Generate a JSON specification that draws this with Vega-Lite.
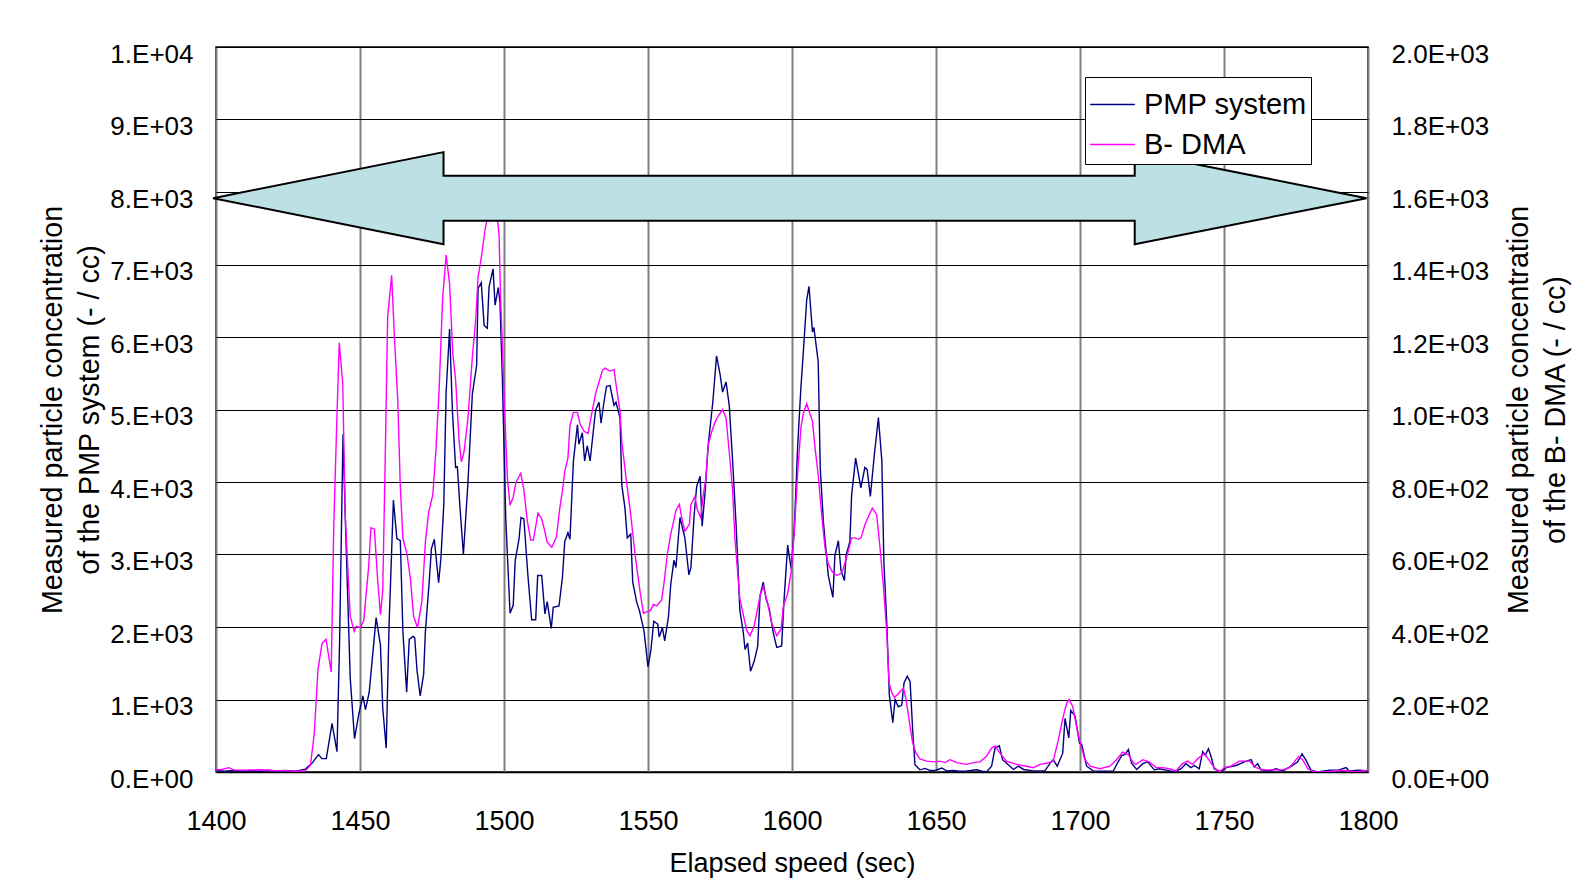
{
  "$schema": "https://vega.github.io/schema/vega-lite/v6.json",
  "width": 1152,
  "height": 725,
  "autosize": {"type": "none"},
  "padding": {"left": 216, "top": 47, "right": 211, "bottom": 118},
  "background": "white",
  "config": {
    "font": "Liberation Sans",
    "view": {"stroke": "#000000", "strokeWidth": 1.5},
    "axis": {"labelColor": "#000000", "titleColor": "#000000", "titleFontWeight": "normal", "labelFont": "Liberation Sans", "titleFont": "Liberation Sans"}
  },
  "datasets": {
    "pmp": [
      {"t":1400,"v":20},{"t":1403,"v":10},{"t":1406,"v":20},{"t":1409,"v":10},{"t":1412,"v":20},{"t":1415,"v":10},{"t":1418,"v":25},{"t":1421,"v":15},{"t":1424,"v":20},{"t":1427,"v":10},{"t":1429,"v":20},
      {"t":1431,"v":40},{"t":1433.3,"v":120},{"t":1435.6,"v":240},{"t":1436.8,"v":185},{"t":1438.3,"v":185},{"t":1440.3,"v":670},{"t":1442,"v":280},{"t":1442.9,"v":1770},{"t":1444.1,"v":4660},{"t":1444.9,"v":3500},{"t":1446.6,"v":1300},{"t":1448.1,"v":460},{"t":1449.5,"v":780},{"t":1451,"v":1050},{"t":1451.9,"v":860},{"t":1453.2,"v":1100},{"t":1455.6,"v":2130},{"t":1457.1,"v":1750},{"t":1457.9,"v":880},{"t":1459.1,"v":330},{"t":1460.1,"v":2040},{"t":1461.6,"v":3750},{"t":1462.8,"v":3220},{"t":1464,"v":3190},{"t":1464.9,"v":1930},{"t":1466.2,"v":1100},{"t":1467.1,"v":1830},{"t":1468.4,"v":1870},{"t":1469,"v":1850},{"t":1469.8,"v":1400},{"t":1470.9,"v":1050},{"t":1472.1,"v":1350},{"t":1472.7,"v":1930},{"t":1474,"v":2610},{"t":1474.8,"v":3080},{"t":1475.8,"v":3210},{"t":1477.3,"v":2610},{"t":1478.1,"v":2950},{"t":1479.1,"v":3690},{"t":1479.9,"v":5230},{"t":1481.1,"v":6110},{"t":1482.1,"v":4970},{"t":1483.2,"v":4200},{"t":1483.8,"v":4210},{"t":1484.7,"v":3660},{"t":1485.9,"v":3000},{"t":1487.5,"v":4000},{"t":1489,"v":5210},{"t":1490.5,"v":5610},{"t":1491,"v":6670},{"t":1492.1,"v":6750},{"t":1493.1,"v":6160},{"t":1494.2,"v":6120},{"t":1494.8,"v":6690},{"t":1496.2,"v":6940},{"t":1496.9,"v":6440},{"t":1498,"v":6680},{"t":1498.6,"v":6480},{"t":1499.4,"v":5480},{"t":1500.6,"v":3500},{"t":1502.1,"v":2190},{"t":1503.2,"v":2300},{"t":1503.9,"v":2920},{"t":1505.2,"v":3210},{"t":1505.9,"v":3510},{"t":1506.9,"v":3490},{"t":1508.3,"v":2710},{"t":1509.6,"v":2100},{"t":1511,"v":2100},{"t":1511.7,"v":2710},{"t":1513.1,"v":2710},{"t":1514.2,"v":2180},{"t":1515,"v":2350},{"t":1516.4,"v":1980},{"t":1517.1,"v":2270},{"t":1519.1,"v":2290},{"t":1520.3,"v":2690},{"t":1521.1,"v":3180},{"t":1522.2,"v":3300},{"t":1522.9,"v":3210},{"t":1524.1,"v":4290},{"t":1525.5,"v":4790},{"t":1526,"v":4520},{"t":1527.2,"v":4680},{"t":1528,"v":4290},{"t":1528.9,"v":4500},{"t":1529.9,"v":4290},{"t":1531.8,"v":4990},{"t":1533,"v":5100},{"t":1533.7,"v":4810},{"t":1534.7,"v":5100},{"t":1535.6,"v":5320},{"t":1536.8,"v":5330},{"t":1538.2,"v":5060},{"t":1538.9,"v":5100},{"t":1540.3,"v":4880},{"t":1540.9,"v":3960},{"t":1542,"v":3640},{"t":1542.8,"v":3230},{"t":1544,"v":3280},{"t":1544.7,"v":2620},{"t":1546.1,"v":2340},{"t":1547,"v":2230},{"t":1548.6,"v":1950},{"t":1550,"v":1450},{"t":1551,"v":1680},{"t":1552,"v":2080},{"t":1553.4,"v":2040},{"t":1553.9,"v":1860},{"t":1555,"v":1990},{"t":1555.8,"v":1810},{"t":1557.1,"v":2140},{"t":1557.9,"v":2590},{"t":1559,"v":2920},{"t":1559.7,"v":2820},{"t":1561.1,"v":3510},{"t":1562.8,"v":3230},{"t":1564.2,"v":2720},{"t":1564.9,"v":2820},{"t":1566,"v":3530},{"t":1566.9,"v":3940},{"t":1568.1,"v":4080},{"t":1568.8,"v":3390},{"t":1569.8,"v":3850},{"t":1570.9,"v":4510},{"t":1572.5,"v":5100},{"t":1573.8,"v":5740},{"t":1575,"v":5490},{"t":1575.9,"v":5240},{"t":1577.1,"v":5380},{"t":1578.2,"v":5060},{"t":1579.4,"v":4280},{"t":1580.6,"v":3400},{"t":1581.9,"v":2230},{"t":1583.1,"v":1920},{"t":1583.7,"v":1690},{"t":1584.6,"v":1780},{"t":1585.6,"v":1390},{"t":1586.9,"v":1530},{"t":1588.1,"v":1740},{"t":1588.9,"v":2430},{"t":1590,"v":2620},{"t":1591,"v":2390},{"t":1592.1,"v":2250},{"t":1593.5,"v":1920},{"t":1594.7,"v":1720},{"t":1596.4,"v":1740},{"t":1597.3,"v":2410},{"t":1598.5,"v":3130},{"t":1599.7,"v":2800},{"t":1600.8,"v":3360},{"t":1602,"v":4520},{"t":1603.1,"v":5310},{"t":1603.9,"v":5770},{"t":1605.1,"v":6510},{"t":1605.9,"v":6700},{"t":1607.1,"v":6070},{"t":1607.6,"v":6130},{"t":1609.1,"v":5660},{"t":1609.8,"v":4200},{"t":1610.9,"v":3450},{"t":1612.6,"v":2710},{"t":1614.2,"v":2410},{"t":1614.9,"v":2990},{"t":1616.1,"v":3190},{"t":1617,"v":2780},{"t":1618.2,"v":2640},{"t":1618.8,"v":2990},{"t":1620.1,"v":3180},{"t":1620.7,"v":3820},{"t":1622.1,"v":4330},{"t":1623,"v":4130},{"t":1623.9,"v":3920},{"t":1625.3,"v":4200},{"t":1626.1,"v":4170},{"t":1627.2,"v":3800},{"t":1628.6,"v":4380},{"t":1630,"v":4890},{"t":1631.2,"v":4290},{"t":1631.9,"v":2900},{"t":1632.9,"v":2060},{"t":1633.8,"v":1060},{"t":1635,"v":680},{"t":1635.8,"v":1000},{"t":1636.9,"v":900},{"t":1638.1,"v":920},{"t":1638.9,"v":1230},{"t":1640,"v":1320},{"t":1641,"v":1250},{"t":1641.9,"v":580},{"t":1642.7,"v":100},{"t":1644.4,"v":30},{"t":1646.2,"v":50},{"t":1648,"v":20},{"t":1650,"v":25},{"t":1652,"v":55},{"t":1653.7,"v":15},{"t":1656,"v":20},{"t":1658,"v":10},{"t":1660.6,"v":15},{"t":1662,"v":20},{"t":1664.1,"v":30},{"t":1666,"v":10},{"t":1667.6,"v":5},{"t":1669.3,"v":80},{"t":1670.5,"v":330},{"t":1672,"v":360},{"t":1673.1,"v":170},{"t":1675.1,"v":100},{"t":1676.9,"v":35},{"t":1678.6,"v":80},{"t":1680.4,"v":35},{"t":1683.8,"v":15},{"t":1687.8,"v":15},{"t":1689.8,"v":130},{"t":1690.7,"v":170},{"t":1692.1,"v":80},{"t":1694,"v":260},{"t":1694.8,"v":740},{"t":1696.1,"v":470},{"t":1696.8,"v":850},{"t":1698.3,"v":770},{"t":1699.8,"v":400},{"t":1700.6,"v":380},{"t":1702.3,"v":80},{"t":1704.6,"v":15},{"t":1708,"v":10},{"t":1711.6,"v":15},{"t":1712.7,"v":100},{"t":1714.5,"v":230},{"t":1715.6,"v":240},{"t":1716.8,"v":310},{"t":1717.9,"v":120},{"t":1719.7,"v":35},{"t":1721.8,"v":115},{"t":1723.5,"v":140},{"t":1725.8,"v":30},{"t":1727.5,"v":45},{"t":1729.9,"v":25},{"t":1732.8,"v":0},{"t":1735.1,"v":45},{"t":1736.8,"v":115},{"t":1738.5,"v":60},{"t":1739.7,"v":90},{"t":1741.4,"v":45},{"t":1742.6,"v":280},{"t":1743.5,"v":230},{"t":1744.6,"v":320},{"t":1745.5,"v":215},{"t":1746.6,"v":45},{"t":1749,"v":0},{"t":1750.7,"v":60},{"t":1754.2,"v":90},{"t":1757.1,"v":140},{"t":1759.4,"v":170},{"t":1760.5,"v":70},{"t":1761.7,"v":115},{"t":1762.8,"v":30},{"t":1765.7,"v":15},{"t":1768.1,"v":45},{"t":1770.4,"v":15},{"t":1773.8,"v":90},{"t":1775.6,"v":140},{"t":1777.1,"v":250},{"t":1778.5,"v":160},{"t":1780.2,"v":25},{"t":1782.5,"v":0},{"t":1786.6,"v":25},{"t":1790,"v":30},{"t":1792.4,"v":60},{"t":1793.5,"v":15},{"t":1797,"v":25},{"t":1800,"v":15}
    ],
    "bdma": [
      {"t":1400,"v":6},{"t":1402,"v":7},{"t":1404.5,"v":12},{"t":1406,"v":6},{"t":1410,"v":5},{"t":1415,"v":6},{"t":1420,"v":4},{"t":1425,"v":3},{"t":1428,"v":2},{"t":1431,"v":3},{"t":1432.8,"v":19},{"t":1434.1,"v":104},{"t":1435.4,"v":282},{"t":1436.8,"v":354},{"t":1438.2,"v":366},{"t":1440,"v":276},{"t":1440.9,"v":682},{"t":1442,"v":982},{"t":1442.8,"v":1184},{"t":1444,"v":1072},{"t":1444.9,"v":702},{"t":1446.6,"v":430},{"t":1448,"v":388},{"t":1448.7,"v":402},{"t":1450.1,"v":398},{"t":1451.3,"v":418},{"t":1453,"v":566},{"t":1453.8,"v":674},{"t":1455,"v":670},{"t":1456.1,"v":534},{"t":1457.1,"v":434},{"t":1457.9,"v":502},{"t":1458.8,"v":882},{"t":1459.6,"v":1256},{"t":1461,"v":1370},{"t":1461.9,"v":1208},{"t":1463.1,"v":1028},{"t":1464,"v":786},{"t":1464.9,"v":644},{"t":1466.3,"v":602},{"t":1467.5,"v":534},{"t":1468.6,"v":430},{"t":1470,"v":398},{"t":1471.5,"v":472},{"t":1472.7,"v":634},{"t":1473.8,"v":714},{"t":1475.3,"v":766},{"t":1476.4,"v":892},{"t":1477.5,"v":1060},{"t":1478.7,"v":1308},{"t":1479.9,"v":1426},{"t":1481.1,"v":1348},{"t":1482.2,"v":1156},{"t":1483.2,"v":1082},{"t":1484.4,"v":914},{"t":1485.2,"v":856},{"t":1486.1,"v":882},{"t":1487.5,"v":976},{"t":1489,"v":1144},{"t":1490.2,"v":1250},{"t":1491,"v":1366},{"t":1492.1,"v":1418},{"t":1493.5,"v":1500},{"t":1495,"v":1560},{"t":1497,"v":1580},{"t":1498.3,"v":1480},{"t":1498.8,"v":1312},{"t":1499.4,"v":1186},{"t":1500.2,"v":998},{"t":1501.2,"v":808},{"t":1502.1,"v":736},{"t":1503.2,"v":758},{"t":1504.1,"v":798},{"t":1505.8,"v":824},{"t":1506.9,"v":778},{"t":1508.1,"v":692},{"t":1509.3,"v":640},{"t":1510.2,"v":640},{"t":1511.8,"v":714},{"t":1513.1,"v":698},{"t":1514.1,"v":666},{"t":1515,"v":634},{"t":1516.6,"v":620},{"t":1518.2,"v":648},{"t":1519.3,"v":724},{"t":1520.3,"v":776},{"t":1521.1,"v":830},{"t":1522.2,"v":866},{"t":1522.9,"v":956},{"t":1524.1,"v":992},{"t":1525.5,"v":992},{"t":1526.4,"v":960},{"t":1527.8,"v":940},{"t":1529.2,"v":934},{"t":1530.3,"v":982},{"t":1531.8,"v":1044},{"t":1533.3,"v":1084},{"t":1534.2,"v":1108},{"t":1535.1,"v":1114},{"t":1536.8,"v":1106},{"t":1538.2,"v":1110},{"t":1539.1,"v":1058},{"t":1540.3,"v":994},{"t":1540.9,"v":912},{"t":1542.4,"v":810},{"t":1544,"v":710},{"t":1545.5,"v":600},{"t":1547.2,"v":500},{"t":1548.4,"v":438},{"t":1549.5,"v":442},{"t":1550.9,"v":446},{"t":1551.9,"v":462},{"t":1553,"v":458},{"t":1554.7,"v":474},{"t":1555.6,"v":524},{"t":1556.7,"v":600},{"t":1557.9,"v":656},{"t":1558.8,"v":688},{"t":1559.7,"v":722},{"t":1560.9,"v":738},{"t":1561.7,"v":702},{"t":1562.8,"v":664},{"t":1564.4,"v":684},{"t":1564.9,"v":738},{"t":1566.3,"v":760},{"t":1567.1,"v":724},{"t":1568.3,"v":702},{"t":1569.2,"v":766},{"t":1570.1,"v":810},{"t":1570.9,"v":902},{"t":1572.1,"v":938},{"t":1573.3,"v":966},{"t":1574.4,"v":982},{"t":1575.9,"v":1000},{"t":1577.1,"v":976},{"t":1578.2,"v":884},{"t":1579.4,"v":774},{"t":1580.2,"v":640},{"t":1581.9,"v":478},{"t":1583.3,"v":426},{"t":1584.3,"v":390},{"t":1585.4,"v":376},{"t":1586.9,"v":404},{"t":1588.9,"v":486},{"t":1590,"v":512},{"t":1591.6,"v":464},{"t":1592.9,"v":412},{"t":1594.7,"v":376},{"t":1596.2,"v":394},{"t":1597,"v":458},{"t":1598.5,"v":492},{"t":1599.7,"v":552},{"t":1600.8,"v":662},{"t":1602,"v":830},{"t":1603.1,"v":950},{"t":1603.9,"v":988},{"t":1605.1,"v":1016},{"t":1605.9,"v":996},{"t":1607.1,"v":968},{"t":1608,"v":894},{"t":1609.1,"v":820},{"t":1610.3,"v":710},{"t":1611.5,"v":616},{"t":1612.6,"v":574},{"t":1614,"v":552},{"t":1615.5,"v":542},{"t":1617,"v":548},{"t":1617.8,"v":560},{"t":1619.3,"v":602},{"t":1620.7,"v":646},{"t":1621.9,"v":646},{"t":1623,"v":642},{"t":1624,"v":646},{"t":1625.3,"v":682},{"t":1626.5,"v":704},{"t":1627.9,"v":728},{"t":1629.4,"v":710},{"t":1630.6,"v":616},{"t":1631.8,"v":506},{"t":1632.9,"v":384},{"t":1633.7,"v":246},{"t":1634.7,"v":218},{"t":1635.6,"v":206},{"t":1636.9,"v":216},{"t":1638.7,"v":232},{"t":1639.6,"v":200},{"t":1641,"v":126},{"t":1641.9,"v":80},{"t":1643.1,"v":52},{"t":1644.4,"v":36},{"t":1646.8,"v":30},{"t":1649.7,"v":28},{"t":1651.4,"v":30},{"t":1653.1,"v":26},{"t":1654.9,"v":34},{"t":1657.2,"v":26},{"t":1660.6,"v":21},{"t":1663,"v":26},{"t":1665.3,"v":28},{"t":1667.6,"v":44},{"t":1669.3,"v":66},{"t":1670.5,"v":72},{"t":1672.2,"v":52},{"t":1674.5,"v":30},{"t":1678,"v":21},{"t":1681.5,"v":16},{"t":1683.8,"v":12},{"t":1686.1,"v":21},{"t":1688.4,"v":24},{"t":1690.7,"v":30},{"t":1692.5,"v":90},{"t":1694.2,"v":154},{"t":1695.4,"v":190},{"t":1696.2,"v":200},{"t":1697.5,"v":180},{"t":1698.8,"v":126},{"t":1700.2,"v":76},{"t":1701.7,"v":34},{"t":1703.5,"v":16},{"t":1706.9,"v":9},{"t":1710.4,"v":16},{"t":1712.7,"v":34},{"t":1714.8,"v":55},{"t":1716.8,"v":48},{"t":1718.5,"v":26},{"t":1719.4,"v":21},{"t":1721.8,"v":34},{"t":1724.1,"v":28},{"t":1726.4,"v":12},{"t":1728.7,"v":12},{"t":1731,"v":9},{"t":1733.3,"v":3},{"t":1735.6,"v":23},{"t":1737.4,"v":30},{"t":1739.1,"v":21},{"t":1740.9,"v":37},{"t":1743.2,"v":51},{"t":1744.9,"v":32},{"t":1746.6,"v":12},{"t":1748.4,"v":0},{"t":1750.1,"v":12},{"t":1752.4,"v":16},{"t":1755.3,"v":30},{"t":1758.8,"v":30},{"t":1761.1,"v":12},{"t":1763.4,"v":6},{"t":1766.9,"v":6},{"t":1770.4,"v":6},{"t":1772.7,"v":12},{"t":1774.4,"v":28},{"t":1775.9,"v":43},{"t":1777.3,"v":34},{"t":1779.1,"v":9},{"t":1781.4,"v":0},{"t":1785.4,"v":0},{"t":1791.2,"v":5},{"t":1795.8,"v":0},{"t":1800,"v":5}
    ],
    "arrow": [
      {"i":0,"t":1399,"v":7915},{"i":1,"t":1479,"v":8550},{"i":2,"t":1479,"v":8225},{"i":3,"t":1719,"v":8225},{"i":4,"t":1719,"v":8550},{"i":5,"t":1799.5,"v":7915},{"i":6,"t":1719,"v":7280},{"i":7,"t":1719,"v":7605},{"i":8,"t":1479,"v":7605},{"i":9,"t":1479,"v":7280}
    ]
  },
  "layer": [
    {
      "data": {"name": "pmp"},
      "transform": [{"calculate": "'PMP system'", "as": "s"}],
      "mark": {"type": "line", "strokeWidth": 1.4, "clip": true},
      "encoding": {
        "x": {"field": "t", "type": "quantitative", "scale": {"domain": [1400, 1800], "nice": false, "zero": false},
          "axis": {"values": [1400,1450,1500,1550,1600,1650,1700,1750,1800], "format": "d", "grid": true, "gridColor": "#808080", "gridWidth": 2, "ticks": false, "domainColor": "#000000", "domainWidth": 1.5, "labelFontSize": 27, "labelPadding": 36, "labelFlush": false, "title": "Elapsed speed (sec)", "titleFontSize": 27, "titlePadding": 16}},
        "y": {"field": "v", "type": "quantitative", "scale": {"domain": [0, 10000], "nice": false},
          "axis": {"orient": "left", "values": [0,1000,2000,3000,4000,5000,6000,7000,8000,9000,10000], "labelExpr": "datum.value == 0 ? '0.E+00' : datum.value == 10000 ? '1.E+04' : format(datum.value/1000, 'd') + '.E+03'", "grid": true, "gridColor": "#000000", "gridWidth": 1, "ticks": false, "domain": false, "labelFontSize": 26, "labelPadding": 23, "labelOffset": 7, "title": ["Measured particle concentration", "of the PMP system (- / cc)"], "titleFontSize": 28.7, "titleLineHeight": 37, "titlePadding": 5}},
        "color": {"field": "s", "type": "nominal", "scale": {"domain": ["PMP system", "B- DMA"], "range": ["#000080", "#FF00FF"]},
          "legend": {"title": null, "orient": "none", "legendX": 869, "legendY": 30, "strokeColor": "#000000", "fillColor": "#ffffff", "padding": 4, "labelFontSize": 29, "labelLimit": 400, "labelFont": "Liberation Sans", "labelColor": "#000000", "symbolType": "stroke", "symbolSize": 2000, "symbolStrokeWidth": 1.5, "labelOffset": 8, "rowPadding": 1}}
      }
    },
    {
      "data": {"name": "bdma"},
      "transform": [{"calculate": "'B- DMA'", "as": "s"}],
      "mark": {"type": "line", "strokeWidth": 1.4, "clip": true},
      "encoding": {
        "x": {"field": "t", "type": "quantitative"},
        "y": {"field": "v", "type": "quantitative", "scale": {"domain": [0, 2000], "nice": false},
          "axis": {"orient": "right", "values": [0,200,400,600,800,1000,1200,1400,1600,1800,2000], "labelExpr": "datum.value == 0 ? '0.0E+00' : datum.value >= 1000 ? format(datum.value/1000, '.1f') + 'E+03' : format(datum.value/100, '.1f') + 'E+02'", "grid": false, "ticks": false, "domain": false, "labelFontSize": 26, "labelPadding": 23, "labelOffset": 7, "title": ["Measured particle concentration", "of the B- DMA (- / cc)"], "titleFontSize": 28.7, "titleLineHeight": 37, "titleAngle": 270, "titlePadding": 8}},
        "color": {"field": "s", "type": "nominal"}
      }
    },
    {
      "data": {"name": "arrow"},
      "mark": {"type": "line", "interpolate": "linear-closed", "fill": "#BCE0E3", "stroke": "#000000", "strokeWidth": 2, "clip": false},
      "encoding": {
        "x": {"field": "t", "type": "quantitative"},
        "y": {"field": "v", "type": "quantitative", "scale": {"domain": [0, 10000], "nice": false}, "axis": null},
        "order": {"field": "i", "type": "quantitative"}
      }
    }
  ],
  "resolve": {"scale": {"y": "independent"}}
}
